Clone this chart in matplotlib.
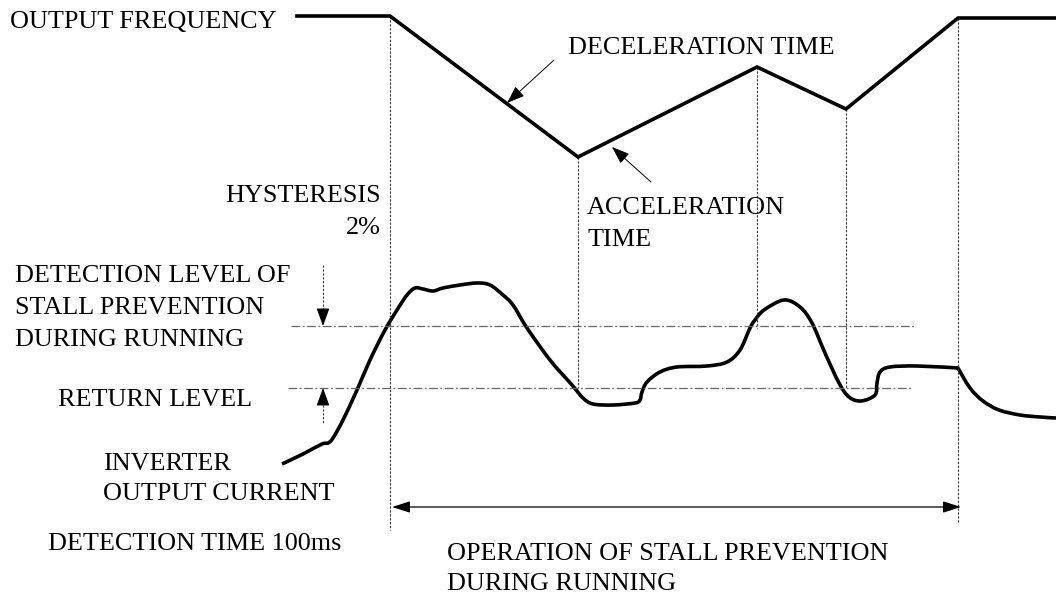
import numpy as np
import matplotlib
matplotlib.use("Agg")
import matplotlib.pyplot as plt
from matplotlib.path import Path
from matplotlib.patches import PathPatch

plt.rcParams['font.family'] = ['Liberation Serif', 'DejaVu Serif']

# output frequency (pixel-like diagram units, y grows downward)
freq_x = [297, 390, 578, 757, 846, 958, 1056]
freq_y = [16, 16, 157, 67, 109, 18, 18]

# inverter output current
curr_x = [282, 303, 322, 328, 333, 343, 357, 370, 385, 397, 407, 415, 423, 433,
          443, 460, 477, 490, 503, 513, 527, 550, 572, 583, 593, 613, 635, 640,
          642, 647, 660, 677, 707, 727, 740, 750, 755, 764, 784, 800, 812, 825,
          839, 849, 861, 875, 877, 880, 890, 917, 958, 970, 983, 999, 1020,
          1040, 1056]
curr_y = [464, 454, 444, 443, 438, 420, 390, 360, 330, 310, 295, 288, 289, 291,
          288, 285, 283, 285, 295, 305, 328, 360, 385, 398, 404, 405, 403, 400,
          392, 382, 372, 367, 366, 362, 350, 328, 320, 310, 300, 307, 323, 353,
          383, 397, 401, 395, 383, 372, 367, 366, 368, 388, 401, 410, 415,
          417, 418]

# levels
detect_level = 326
return_level = 388
level_x = [(291, 915), (288, 912)]

# vertical markers: x, top, bottom
mark_x = [390, 578, 757, 846, 958]
mark_top = [16, 157, 67, 109, 18]
mark_bot = [530, 388, 328, 388, 523]


def smooth_path(xs, ys, corners=(), k=1 / 6):
    # cubic bezier through the points (catmull-rom style control points)
    p = np.column_stack([xs, ys]).astype(float)
    n = len(p)
    tan = np.zeros_like(p)
    for i in range(n):
        if i in corners:
            continue
        tan[i] = (p[min(i + 1, n - 1)] - p[max(i - 1, 0)]) * k
    verts = [p[0]]
    codes = [Path.MOVETO]
    for i in range(n - 1):
        verts += [p[i] + tan[i], p[i + 1] - tan[i + 1], p[i + 1]]
        codes += [Path.CURVE4] * 3
    return Path(verts, codes)


fig = plt.figure(figsize=(10.56, 5.94), dpi=100)
ax = fig.add_axes([0, 0, 1, 1])
ax.set_xlim(0, 1056)
ax.set_ylim(594, 0)
ax.axis('off')

for x, t, b in zip(mark_x, mark_top, mark_bot):
    ax.plot([x, x], [t, b], color='#333333', lw=0.8, ls=(0, (2, 1.5)))

for y, (x0, x1) in zip([detect_level, return_level], level_x):
    ax.plot([x0, x1], [y, y], color='#666666', lw=0.9, ls=(0, (7, 2, 1.5, 2)))

ax.plot(freq_x, freq_y, color='black', lw=2.6, solid_joinstyle='miter')
ax.add_patch(PathPatch(smooth_path(curr_x, curr_y, corners=(curr_x.index(958),)),
                       fill=False, edgecolor='black', lw=2.6,
                       joinstyle='round', capstyle='butt'))

# hysteresis arrows
hyst = dict(arrowstyle='-|>,head_length=1.1,head_width=0.4', color='black', lw=0.8,
            shrinkA=0, shrinkB=0)
ax.plot([323, 323], [265, 313], color='#333333', lw=0.8, ls=(0, (2, 1.5)))
ax.plot([323, 323], [401, 423], color='#333333', lw=0.8, ls=(0, (2, 1.5)))
ax.annotate('', xy=(323, detect_level), xytext=(323, 310), arrowprops=hyst)
ax.annotate('', xy=(323, return_level), xytext=(323, 404), arrowprops=hyst)

# pointer arrows
ptr = dict(arrowstyle='-|>,head_length=1.1,head_width=0.4', color='black', lw=0.7,
           shrinkA=0, shrinkB=0)
ax.annotate('', xy=(507, 103), xytext=(554, 60), arrowprops=ptr)
ax.annotate('', xy=(612, 147), xytext=(651, 182), arrowprops=ptr)

# operation span arrow
ax.annotate('', xy=(392, 507), xytext=(961, 507),
            arrowprops=dict(arrowstyle='<|-|>,head_length=1.1,head_width=0.35', color='black',
                            lw=0.9, shrinkA=0, shrinkB=0))

fs = 18.8
labels = [
    ('OUTPUT FREQUENCY', 10, 20, 'left'),
    ('DECELERATION TIME', 568, 45, 'left'),
    ('HYSTERESIS', 381, 193, 'right'),
    ('2%', 381, 225, 'right'),
    ('ACCELERATION', 587, 205, 'left'),
    ('TIME', 587, 237, 'left'),
    ('DETECTION LEVEL OF', 15, 273, 'left'),
    ('STALL PREVENTION', 15, 306, 'left'),
    ('DURING RUNNING', 15, 337, 'left'),
    ('RETURN LEVEL', 58, 398, 'left'),
    ('INVERTER', 103, 461, 'left'),
    ('OUTPUT CURRENT', 103, 492, 'left'),
    ('DETECTION TIME 100ms', 48, 541, 'left'),
    ('OPERATION OF STALL PREVENTION', 447, 551, 'left'),
    ('DURING RUNNING', 447, 581, 'left'),
]
for txt, x, y, ha in labels:
    ax.text(x, y + 8.5, txt, fontsize=fs, ha=ha, va='baseline', color='black')

fig.savefig('out.png', dpi=100, facecolor='white')
